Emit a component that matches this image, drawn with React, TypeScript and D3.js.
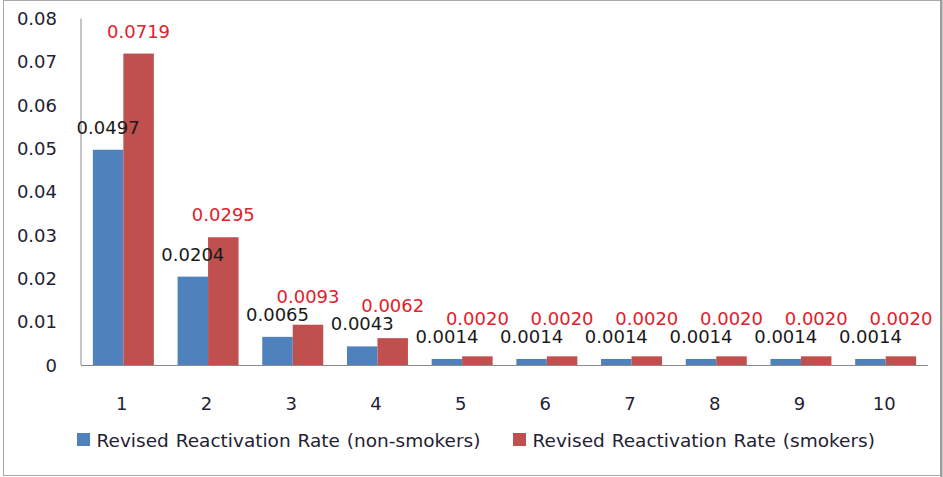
import React from "react";
import * as d3 from "d3";

// Category labels (years) and the two series of revised reactivation rates
const categories = ["1", "2", "3", "4", "5", "6", "7", "8", "9", "10"];
const nonSmokers = [0.0497, 0.0204, 0.0065, 0.0043, 0.0014, 0.0014, 0.0014, 0.0014, 0.0014, 0.0014];
const smokers = [0.0719, 0.0295, 0.0093, 0.0062, 0.002, 0.002, 0.002, 0.002, 0.002, 0.002];
const yTicks = [0, 0.01, 0.02, 0.03, 0.04, 0.05, 0.06, 0.07, 0.08];
const seriesNames = [
  "Revised Reactivation Rate (non-smokers)",
  "Revised Reactivation Rate (smokers)",
];
const seriesColors = ["#4F81BD", "#C0504D"];
const labelColors = ["#1a1a1a", "#E3202B"];

const W = 943;
const H = 477;
const FONT = "'DejaVu Sans', Verdana, sans-serif";

export default function App() {
  const plot = { left: 81, right: 928, top: 18.5, bottom: 365 };

  const x0 = d3
    .scaleBand<string>()
    .domain(categories)
    .range([plot.left, plot.right])
    .paddingInner(0.28)
    .paddingOuter(0.14);
  const x1 = d3
    .scaleBand<number>()
    .domain([0, 1])
    .range([0, x0.bandwidth()])
    .padding(0);
  const y = d3.scaleLinear().domain([0, 0.08]).range([plot.bottom, plot.top]);
  const fmt = d3.format(".4f");

  const labelGap = 22.5; // label centre above bar top
  const stackGap = 18; // minimum spacing between stacked labels

  return (
    <svg
      width={W}
      height={H}
      style={{ position: "absolute", left: 0, top: 0, background: "#fff" }}
      fontFamily={FONT}
    >
      {/* chart frame */}
      <rect x={3.5} y={0.5} width={937} height={475} fill="#fff" stroke="#a8a8a8" />
      <line x1={941.5} x2={941.5} y1={0} y2={477} stroke="#9a9a9a" strokeWidth={2} />

      {/* y tick labels */}
      {yTicks.map((t) => (
        <text
          key={t}
          x={57}
          y={y(t)}
          textAnchor="end"
          dominantBaseline="central"
          fontSize={18}
          fill="#1f2233"
        >
          {t === 0 ? "0" : d3.format(".2f")(t)}
        </text>
      ))}

      {/* bars */}
      {categories.map((c, i) =>
        [nonSmokers[i], smokers[i]].map((v, s) => (
          <rect
            key={`${c}-${s}`}
            x={(x0(c) ?? 0) + (x1(s) ?? 0)}
            y={y(v)}
            width={x1.bandwidth()}
            height={y(0) - y(v)}
            fill={seriesColors[s]}
          />
        ))
      )}

      {/* axes */}
      <line x1={plot.left} x2={plot.left} y1={plot.top} y2={plot.bottom} stroke="#8a8a8a" />
      <line x1={plot.left} x2={plot.right} y1={plot.bottom + 0.5} y2={plot.bottom + 0.5} stroke="#8a8a8a" />

      {/* value labels */}
      {categories.map((c, i) => {
        const bx = x0(c) ?? 0;
        const blueY = y(nonSmokers[i]) - labelGap;
        const redNatural = y(smokers[i]) - labelGap;
        const redY = Math.min(redNatural, blueY - stackGap);
        return (
          <g key={`lbl-${c}`} fontSize={18}>
            <text
              x={bx + (x1(0) ?? 0) + x1.bandwidth() / 2}
              y={blueY}
              textAnchor="middle"
              dominantBaseline="central"
              fill={labelColors[0]}
            >
              {fmt(nonSmokers[i])}
            </text>
            <text
              x={bx + (x1(1) ?? 0) + x1.bandwidth() / 2}
              y={redY}
              textAnchor="middle"
              dominantBaseline="central"
              fill={labelColors[1]}
            >
              {fmt(smokers[i])}
            </text>
          </g>
        );
      })}

      {/* x category labels */}
      {categories.map((c) => (
        <text
          key={`x-${c}`}
          x={(x0(c) ?? 0) + x0.bandwidth() / 2 - 1.5}
          y={403}
          textAnchor="middle"
          dominantBaseline="central"
          fontSize={18}
          fill="#1f2233"
        >
          {c}
        </text>
      ))}

      {/* legend */}
      {seriesNames.map((name, s) => {
        const lx = s === 0 ? 77 : 513;
        return (
          <g key={name}>
            <rect x={lx} y={433} width={13} height={13} fill={seriesColors[s]} />
            <text
              x={lx + 19.5}
              y={440}
              dominantBaseline="central"
              fontSize={18.5}
              wordSpacing={1}
              fill="#1f2233"
            >
              {name}
            </text>
          </g>
        );
      })}
    </svg>
  );
}
